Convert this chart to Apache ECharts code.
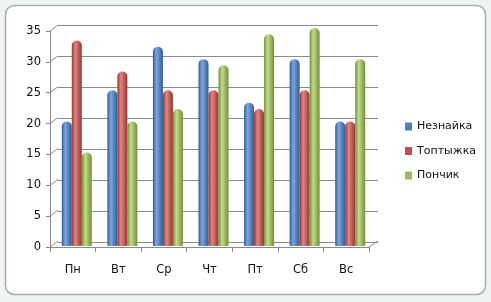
<!DOCTYPE html>
<html>
<head>
<meta charset="utf-8">
<script src="https://cdn.jsdelivr.net/npm/echarts@6/dist/echarts.min.js"></script>
<style>
html,body{margin:0;padding:0;background:#eef3f3;}
#c{width:491px;height:302px;}
</style>
</head>
<body>
<div id="c"></div>
<script>
const categories = ['Пн','Вт','Ср','Чт','Пт','Сб','Вс'];
const seriesNames = ['Незнайка','Топтыжка','Пончик'];
const neznaika = [20,25,32,30,23,30,20];
const toptyzhka = [33,28,25,25,22,25,20];
const ponchik = [15,20,22,29,34,35,30];
const yTicks = [0,5,10,15,20,25,30,35];

const baseColors = ['#4f81bd','#c0504d','#9bbb59'];
const darks = ['#2f5b94','#973532','#728f36'];
const lights = ['#7ea6dc','#e08783','#c3dc8c'];
function grad(i){
  return {type:'linear',x:0,y:0,x2:1,y2:0,colorStops:[
    {offset:0,color:darks[i]},{offset:0.35,color:lights[i]},{offset:1,color:darks[i]}]};
}
const FONT = 'DejaVu Sans';
const chart = echarts.init(document.getElementById('c'));
const values = [neznaika, toptyzhka, ponchik];
const barSeries = values.map((v,i)=>({
  name: seriesNames[i], type:'bar', xAxisIndex:2, yAxisIndex:2,
  data: v, barWidth:10, barGap:'0%',
  itemStyle:{color:grad(i), borderRadius:[5,5,1,1]}
}));
chart.setOption({
  backgroundColor:'#eef3f3',
  animation:false,
  graphic:[{type:'rect',shape:{x:5.5,y:5.5,width:480,height:289,r:9},
    style:{fill:'#ffffff',stroke:'#a9acad',lineWidth:1.5},z:-10}],
  legend:{
    orient:'vertical', left:405, top:121, padding:0, itemWidth:7, itemHeight:8, itemGap:13.5,
    icon:'rect',
    textStyle:{fontFamily:FONT,fontSize:11,color:'#111'},
    data: seriesNames.map((n,i)=>({name:n,itemStyle:{color:baseColors[i]}}))
  },
  grid:[
    {left:58,right:113,top:25,bottom:60},
    {left:50,right:122,top:31,bottom:55},
    {left:54,right:118,top:28,bottom:56}
  ],
  xAxis:[
    {gridIndex:0,type:'category',data:categories,show:false},
    {gridIndex:1,type:'category',data:categories,
      axisLine:{lineStyle:{color:'#888',width:1}},
      axisTick:{show:true,length:5,lineStyle:{color:'#888'}},
      axisLabel:{margin:17,fontFamily:FONT,fontSize:11.5,color:'#111'}},
    {gridIndex:2,type:'category',data:categories,show:false}
  ],
  yAxis:[
    {gridIndex:0,type:'value',min:0,max:35,interval:5,
      axisLabel:{show:false},axisLine:{show:false},axisTick:{show:false},
      splitLine:{show:true,lineStyle:{color:'#8a8a8a',width:1}}},
    {gridIndex:1,type:'value',min:0,max:35,interval:5,
      axisLine:{show:true,lineStyle:{color:'#888',width:1}},
      axisTick:{show:true,length:4,lineStyle:{color:'#888'}},
      splitLine:{show:false},
      axisLabel:{margin:9,fontFamily:FONT,fontSize:11.5,color:'#111'}},
    {gridIndex:2,type:'value',min:0,max:35,interval:5,show:false,splitLine:{show:false}}
  ],
  series:[
    {type:'custom',xAxisIndex:1,yAxisIndex:1,silent:true,z:1,
      data: yTicks.map(t=>[0,t]),
      renderItem:function(params,api){
        const cs = params.coordSys;
        const y = api.coord([0, api.value(1)])[1];
        const kids = [{type:'line',shape:{x1:cs.x,y1:y,x2:cs.x+8,y2:y-6},
          style:{stroke:'#8a8a8a',lineWidth:1}}];
        if(api.value(1)===0){
          kids.push({type:'line',shape:{x1:cs.x+cs.width,y1:y,x2:cs.x+cs.width+9,y2:y-6},
            style:{stroke:'#8a8a8a',lineWidth:1}});
        }
        return {type:'group',children:kids};
      }
    }
  ].concat(barSeries)
});
</script>
</body>
</html>
